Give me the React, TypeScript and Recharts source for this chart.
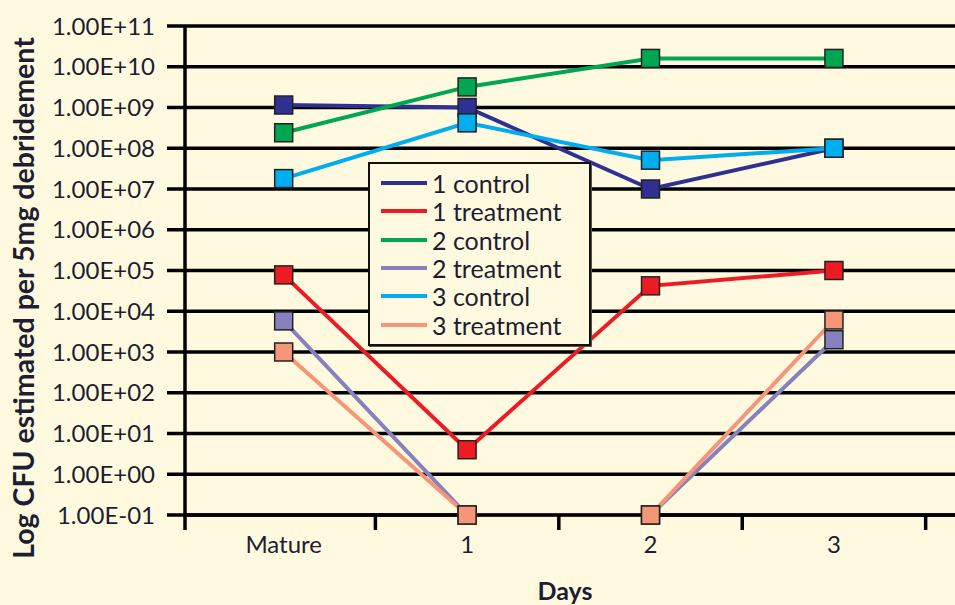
import React from 'react';
import { LineChart, Line, XAxis, YAxis, CartesianGrid, Legend } from 'recharts';

const categories = ['Mature', '1', '2', '3'];
const yTicks = [0.1, 1, 10, 1e2, 1e3, 1e4, 1e5, 1e6, 1e7, 1e8, 1e9, 1e10, 1e11];

const control1 = [1.15e9, 1.0e9, 1.0e7, 1.0e8];
const treatment1 = [7.8e4, 4, 4.2e4, 1.0e5];
const control2 = [2.4e8, 3.2e9, 1.6e10, 1.6e10];
const treatment2 = [5.8e3, 0.1, 0.1, 2.0e3];
const control3 = [1.8e7, 4.2e8, 5.1e7, 1.0e8];
const treatment3 = [1.0e3, 0.1, 0.1, 6.1e3];

const seriesNames = ['1 control', '1 treatment', '2 control', '2 treatment', '3 control', '3 treatment'];
const seriesValues = [control1, treatment1, control2, treatment2, control3, treatment3];
const seriesColors = ['#2E3192', '#ED1C24', '#00A651', '#8781BD', '#00AEEF', '#F69679'];

const X_MIN = -0.538;
const X_MAX = 3.66;
const xTicks = [X_MIN, 0, 0.5, 1, 1.5, 2, 2.5, 3, 3.5];

const data = categories.map((c, i) => {
  const row: Record<string, number | string> = { x: i, name: c };
  seriesNames.forEach((n, s) => {
    row[n] = seriesValues[s][i];
  });
  return row;
});

const TEXT = '#1d1d33';
const FONT = 'Lato, "Open Sans", sans-serif';
const BG = '#FFFADF';

const fmtExp = (v: number) => {
  const e = Math.round(Math.log10(v));
  return `1.00E${e < 0 ? '-' : '+'}${String(Math.abs(e)).padStart(2, '0')}`;
};

const XTick = (props: any) => {
  const { x, y, payload } = props;
  const v = payload.value as number;
  if (Number.isInteger(v) && v >= 0 && v < categories.length) {
    return (
      <text x={x} y={y + 38} textAnchor="middle" fill={TEXT} fontFamily={FONT} fontSize={24}>
        {categories[v]}
      </text>
    );
  }
  return <line x1={x} x2={x} y1={y} y2={y + 15} stroke="#000" strokeWidth={3.5} />;
};

const makeDot = (color: string) => (props: any) => {
  const { cx, cy, index } = props;
  if (cx == null || cy == null) return <g key={index} />;
  return (
    <rect key={index} x={cx - 9} y={cy - 9} width={18} height={18} fill={color} stroke="#222" strokeWidth={1.5} />
  );
};

const LegendBox = () => (
  <div
    style={{
      border: '2px solid #111',
      boxShadow: '1px 1px 0 #555',
      background: BG,
      padding: '5px 0 5px 11px',
      fontFamily: FONT,
      fontSize: 25,
      color: TEXT,
      width: 208,
      boxSizing: 'content-box',
    }}
  >
    {seriesNames.map((n, i) => (
      <div key={n} style={{ display: 'flex', alignItems: 'center', height: 28.3, whiteSpace: 'nowrap' }}>
        <div style={{ width: 46, height: 4, background: seriesColors[i], marginRight: 5, flexShrink: 0 }} />
        <span style={{ lineHeight: '28px' }}>{n}</span>
      </div>
    ))}
  </div>
);

export default function App() {
  return (
    <div style={{ position: 'absolute', left: 0, top: 0, width: 955, height: 605, background: BG }}>
      <LineChart width={955} height={605} data={data} margin={{ top: 26, right: 0, bottom: 0, left: 0 }}>
        <CartesianGrid horizontal vertical={false} stroke="#000" strokeWidth={3.5} />
        <XAxis
          type="number"
          dataKey="x"
          domain={[X_MIN, X_MAX]}
          ticks={xTicks}
          interval={0}
          height={90}
          tickSize={0}
          tickMargin={0}
          tickLine={false}
          axisLine={{ stroke: '#000', strokeWidth: 3.5 }}
          tick={<XTick />}
          label={() => (
            <text x={565} y={600} textAnchor="middle" fill={TEXT} fontFamily={FONT} fontWeight={700} fontSize={25}>
              Days
            </text>
          )}
        />
        <YAxis
          type="number"
          scale="log"
          domain={[0.1, 1e11]}
          ticks={yTicks}
          interval={0}
          width={185}
          tickSize={18}
          tickMargin={12}
          tickFormatter={fmtExp}
          tick={{ fill: TEXT, fontFamily: FONT, fontSize: 24 }}
          tickLine={{ stroke: '#000', strokeWidth: 3.5 }}
          axisLine={{ stroke: '#000', strokeWidth: 3.5 }}
          label={() => (
            <text
              transform="rotate(-90)"
              x={-298}
              y={34}
              textAnchor="middle"
              fill={TEXT}
              fontFamily={FONT}
              fontWeight={700}
              fontSize={28.5}
            >
              Log CFU estimated per 5mg debridement
            </text>
          )}
        />
        <Legend
          layout="vertical"
          align="center"
          verticalAlign="middle"
          content={<LegendBox />}
          wrapperStyle={{ left: 368, top: 162, width: 'auto' }}
        />
        {seriesNames.map((n, i) => (
          <Line
            key={n}
            type="linear"
            dataKey={n}
            stroke={seriesColors[i]}
            strokeWidth={4}
            dot={makeDot(seriesColors[i])}
            activeDot={false}
            isAnimationActive={false}
          />
        ))}
      </LineChart>
    </div>
  );
}
